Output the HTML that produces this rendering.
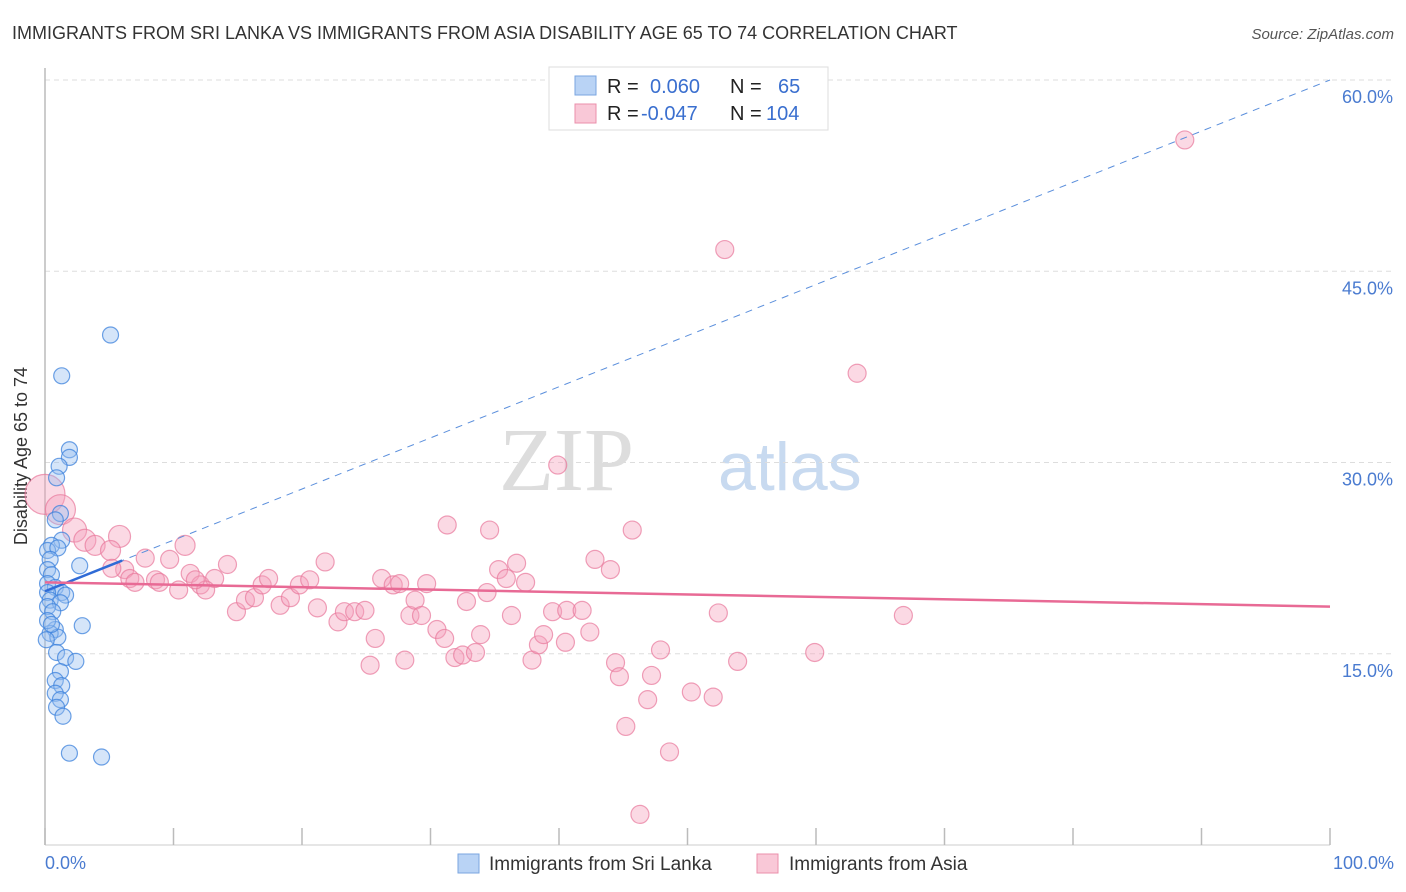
<!DOCTYPE html>
<html><head><meta charset="utf-8"><style>
body{margin:0;background:#fff;font-family:"Liberation Sans",sans-serif;}
svg{display:block}
</style></head><body>
<svg width="1406" height="892">
<text x="12" y="39" font-size="18" fill="#333">IMMIGRANTS FROM SRI LANKA VS IMMIGRANTS FROM ASIA DISABILITY AGE 65 TO 74 CORRELATION CHART</text>
<text x="1394" y="39" font-size="15" fill="#555" font-style="italic" text-anchor="end">Source: ZipAtlas.com</text>
<text x="634" y="490" font-size="90" fill="#ddd" font-family="Liberation Serif,serif" text-anchor="end">ZIP</text>
<text x="718" y="490" font-size="68" fill="#c8daf0">atlas</text>
<g id="grid"></g>
<line x1="45" y1="68" x2="45" y2="845" stroke="#bbb" stroke-width="1.5"/>
<line x1="45" y1="845" x2="1330" y2="845" stroke="#ccc"/>
<g id="xticks"></g>
<text x="27" y="456" font-size="18" fill="#333" text-anchor="middle" transform="rotate(-90 27 456)">Disability Age 65 to 74</text>
<text x="45" y="869" font-size="18" fill="#4a7bd0">0.0%</text>
<text x="1394" y="869" font-size="18" fill="#4a7bd0" text-anchor="end">100.0%</text>
<g id="pink"></g><g id="blue"></g><g id="lines"></g>
<g>
<rect x="549" y="67" width="279" height="63" fill="#fff" stroke="#ddd"/>
<rect x="575" y="76" width="21" height="19" fill="#b9d3f5" stroke="#7aa6e0"/>
<rect x="575" y="104" width="21" height="19" fill="#f9c8d7" stroke="#eb8fab"/>
<text x="607" y="93" font-size="20" fill="#222">R =</text><text x="650" y="93" font-size="20" fill="#3a6fcf">0.060</text>
<text x="730" y="93" font-size="20" fill="#222">N =</text><text x="778" y="93" font-size="20" fill="#3a6fcf">65</text>
<text x="607" y="120" font-size="20" fill="#222">R =</text><text x="641" y="120" font-size="20" fill="#3a6fcf">-0.047</text>
<text x="730" y="120" font-size="20" fill="#222">N =</text><text x="766" y="120" font-size="20" fill="#3a6fcf">104</text>
</g>
<g>
<rect x="458" y="854" width="21" height="19" fill="#b9d3f5" stroke="#7aa6e0"/>
<text x="489" y="870" font-size="19" fill="#333">Immigrants from Sri Lanka</text>
<rect x="757" y="854" width="21" height="19" fill="#f9c8d7" stroke="#eb8fab"/>
<text x="789" y="870" font-size="19" fill="#333">Immigrants from Asia</text>
</g>
</svg>
<script>
const yTicks=[15,30,45,60];
const xTickVals=[0,10,20,30,40,50,60,70,80,90,100];
const blueX=[5.1,1.3,1.9,1.9,1.1,0.9,1.2,0.8,1.3,0.5,0.2,1.0,0.4,2.7,0.2,0.5,0.2,0.8,1.3,0.2,1.6,0.4,1.2,0.2,0.6,2.9,0.8,0.4,1.0,0.9,1.6,2.4,1.2,0.8,1.3,0.8,1.2,0.9,1.4,1.9,4.4,0.2,0.5,0.1];
const blueY=[40.0,36.8,31.0,30.4,29.7,28.8,26.0,25.5,23.9,23.5,23.1,23.3,22.4,21.9,21.6,21.2,20.5,20.2,19.8,19.8,19.6,19.2,19.0,18.7,18.3,17.2,16.9,16.6,16.3,15.1,14.7,14.4,13.6,12.9,12.5,11.9,11.4,10.8,10.1,7.2,6.9,17.6,17.3,16.1];
const pinkX=[88.7,52.9,63.2,39.9,0,1.2,2.3,3.1,3.9,5.8,10.9,31.3,34.6,45.7,5.1,7.8,6.2,6.6,8.6,9.7,11.3,12.1,13.2,14.2,10.4,14.9,15.6,16.3,16.9,17.4,18.3,19.1,19.8,20.6,21.2,21.8,22.8,23.3,24.1,24.9,25.7,25.3,26.2,27.1,27.6,28.0,28.4,28.8,29.3,29.7,30.5,31.1,31.9,32.5,32.8,33.5,33.9,34.4,35.3,35.9,36.7,36.3,37.4,37.9,38.4,38.8,39.5,40.5,40.6,41.8,42.4,42.8,44.0,44.4,44.7,45.2,46.3,47.2,47.9,46.9,48.6,50.3,52.0,52.4,53.9,59.9,66.8,5.2,7.0,8.9,12.5,11.7];
const pinkY=[55.3,46.7,37.0,29.8,27.5,26.3,24.7,23.9,23.5,24.2,23.5,25.1,24.7,24.7,23.1,22.5,21.6,20.9,20.8,22.4,21.3,20.4,20.9,22.0,20.0,18.3,19.2,19.4,20.4,20.9,18.8,19.4,20.4,20.8,18.6,22.2,17.5,18.3,18.3,18.4,16.2,14.1,20.9,20.4,20.5,14.5,18.0,19.2,18.0,20.5,16.9,16.2,14.7,14.9,19.1,15.1,16.5,19.8,21.6,20.9,22.1,18.0,20.6,14.5,15.7,16.5,18.3,15.9,18.4,18.4,16.7,22.4,21.6,14.3,13.2,9.3,2.4,13.3,15.3,11.4,7.3,12.0,11.6,18.2,14.4,15.1,18.0,21.7,20.6,20.6,20.0,20.8];
const pinkR=[9,9,9,9,20,15,12,11,10,11,10,9,9,9,10,9,9,9,9,9,9,9,9,9,9,9,9,9,9,9,9,9,9,9,9,9,9,9,9,9,9,9,9,9,9,9,9,9,9,9,9,9,9,9,9,9,9,9,9,9,9,9,9,9,9,9,9,9,9,9,9,9,9,9,9,9,9,9,9,9,9,9,9,9,9,9,9,9,9,9,9,9];
const pinkTrend=[20.6,18.7];
const blueTrend=[19.9,60.0];
const blueSolidEnd=6;
const NS="http://www.w3.org/2000/svg";
const sx=v=>45+v*12.85, sy=v=>845-v*12.75;
function mk(tag,a,parent){const e=document.createElementNS(NS,tag);for(const k in a)e.setAttribute(k,a[k]);document.getElementById(parent).appendChild(e);return e;}
yTicks.forEach(t=>{
 const l=mk('line',{x1:45,x2:1394,y1:sy(t),y2:sy(t),stroke:'#ddd','stroke-dasharray':'5,4'},'grid');
 
 
 const tx=mk('text',{x:1393,y:sy(t)+23,'font-size':18,fill:'#4a7bd0','text-anchor':'end'},'grid');
 tx.textContent=t.toFixed(1)+'%';
 
 
});
xTickVals.forEach(t=>{
 const l=mk('line',{x1:sx(t),x2:sx(t),y1:828,y2:845,stroke:'#bbb','stroke-width':1.5},'xticks');
 
 
});
pinkX.forEach((x,i)=>{
 const c=mk('circle',{cx:sx(x),cy:sy(pinkY[i]),r:pinkR[i],fill:'rgba(244,160,188,0.4)',stroke:'rgba(232,120,155,0.7)','stroke-width':1.2},'pink');
 
 
});
blueX.forEach((x,i)=>{
 const c=mk('circle',{cx:sx(x),cy:sy(blueY[i]),r:8,fill:'rgba(150,190,240,0.4)',stroke:'rgba(60,130,220,0.75)','stroke-width':1.2},'blue');
 
 
});
const by=x=>blueTrend[0]+(blueTrend[1]-blueTrend[0])*x/100;
let l1=mk('line',{x1:sx(0),y1:sy(by(0)),x2:sx(100),y2:sy(by(100)),stroke:'#5b8fdc','stroke-width':1,'stroke-dasharray':'7,6'},'lines');


let l2=mk('line',{x1:sx(0),y1:sy(by(0)),x2:sx(blueSolidEnd),y2:sy(by(blueSolidEnd)),stroke:'#2f6bd6','stroke-width':2.5},'lines');


let l3=mk('line',{x1:sx(0),y1:sy(pinkTrend[0]),x2:sx(100),y2:sy(pinkTrend[1]),stroke:'#e86a95','stroke-width':2.5},'lines');


</script>
</body></html>
